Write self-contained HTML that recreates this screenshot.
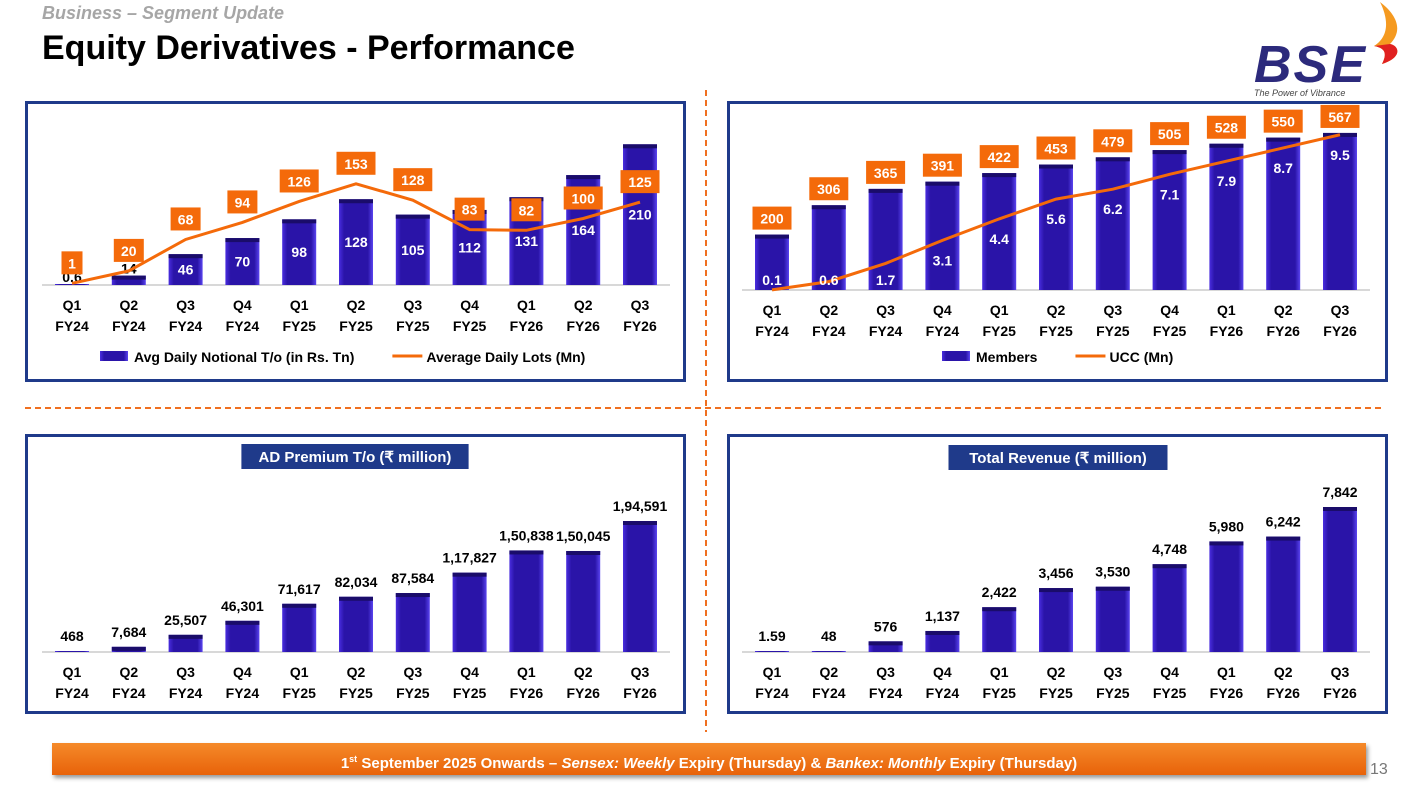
<!DOCTYPE html>
<html><head><meta charset="utf-8">
<style>
body{margin:0;width:1410px;height:790px;background:#fff;font-family:"Liberation Sans",sans-serif;overflow:hidden;position:relative}
.abs{position:absolute}
.panel{position:absolute;border:3px solid #1f3a8a;box-sizing:border-box;background:#fff}
</style></head>
<body>
<div class="abs" style="left:42px;top:3px;font-size:18px;font-weight:bold;font-style:italic;color:#a6a6a6">Business – Segment Update</div>
<div class="abs" style="left:42px;top:29px;font-size:34px;font-weight:bold;color:#000">Equity Derivatives - Performance</div>
<div class="abs" style="left:1254px;top:40px;width:150px;height:60px">
  <div style="font-size:52px;font-weight:bold;font-style:italic;color:#2c2a7c;line-height:50px;letter-spacing:2px">BSE</div>
  <div style="font-size:9px;font-style:italic;color:#444;margin-top:-2px">The Power of Vibrance</div>
  <svg class="abs" style="left:112px;top:-40px" width="40" height="68"><path d="M14 2 C30 14 38 30 24 44 C34 46 36 58 16 64 C22 52 18 48 8 46 C24 36 22 18 14 2Z" fill="#f59a20"/><path d="M24 44 C34 46 36 58 16 64 C22 52 18 48 8 46Z" fill="#e02020"/></svg>
</div>
<svg class="abs" style="left:0;top:0" width="1410" height="790">
  <line x1="25" y1="408" x2="1385" y2="408" stroke="#f07020" stroke-width="2" stroke-dasharray="6,4"/>
  <line x1="706" y1="90" x2="706" y2="732" stroke="#f07020" stroke-width="2" stroke-dasharray="6,4"/>
</svg>
<div class="panel" style="left:25px;top:101px;width:661px;height:281px"></div>
<div class="panel" style="left:727px;top:101px;width:661px;height:281px"></div>
<div class="panel" style="left:25px;top:434px;width:661px;height:280px"></div>
<div class="panel" style="left:727px;top:434px;width:661px;height:280px"></div>
<svg id="ch" class="abs" style="left:0;top:0" width="1410" height="790">
<defs>
<linearGradient id="bg" x1="0" y1="0" x2="1" y2="0"><stop offset="0" stop-color="#4a2ee0"/><stop offset="0.15" stop-color="#2a14a8"/><stop offset="0.85" stop-color="#2a14a8"/><stop offset="1" stop-color="#5a44f0"/></linearGradient>
</defs>
</svg>
<div class="abs" style="left:52px;top:743px;width:1314px;height:32px;background:linear-gradient(#f58a2a,#e8620a);box-shadow:2px 3px 4px #999;text-align:center;line-height:32px;font-size:15px;font-weight:bold;color:#fff">1<sup style="font-size:9px">st</sup> September 2025 Onwards – <i>Sensex: Weekly</i> Expiry (Thursday) &amp; <i>Bankex: Monthly</i> Expiry (Thursday)</div>
<div class="abs" style="left:1370px;top:761px;font-size:16px;color:#777">13</div>
<script>
const categoriesQ=["Q1","Q2","Q3","Q4","Q1","Q2","Q3","Q4","Q1","Q2","Q3"];
const categoriesFY=["FY24","FY24","FY24","FY24","FY25","FY25","FY25","FY25","FY26","FY26","FY26"];
const turnover=[0.6,14,46,70,98,128,105,112,131,164,210];
const dailyLots=[1,20,68,94,126,153,128,83,82,100,125];
const members=[200,306,365,391,422,453,479,505,528,550,567];
const ucc=[0.1,0.6,1.7,3.1,4.4,5.6,6.2,7.1,7.9,8.7,9.5];
const premium=[468,7684,25507,46301,71617,82034,87584,117827,150838,150045,194591];
const premiumLabels=["468","7,684","25,507","46,301","71,617","82,034","87,584","1,17,827","1,50,838","1,50,045","1,94,591"];
const revenue=[1.59,48,576,1137,2422,3456,3530,4748,5980,6242,7842];
const revenueLabels=["1.59","48","576","1,137","2,422","3,456","3,530","4,748","5,980","6,242","7,842"];

const svg=document.getElementById('ch');
const NS="http://www.w3.org/2000/svg";
function mk(tag,at,txt){const e=document.createElementNS(NS,tag);for(const k in at)e.setAttribute(k,at[k]);if(txt!==undefined)e.textContent=txt;svg.appendChild(e);return e;}
function xPos(x0,i){return x0+i*56.8;}
function axis(x0,base,name){
  const l=mk('line',{x1:x0-30,y1:base,x2:x0+10*56.8+30,y2:base,stroke:'#d8d8d8','stroke-width':2});
  
  
  categoriesQ.forEach((q,i)=>{
    const t=mk('text',{x:xPos(x0,i),y:base+25,'text-anchor':'middle','font-size':14,'font-weight':'bold',fill:'#000'},q);
    
    
    const t2=mk('text',{x:xPos(x0,i),y:base+46,'text-anchor':'middle','font-size':14,'font-weight':'bold',fill:'#000'},categoriesFY[i]);
    
    
  });
}
function bars(x0,base,vals,scale,name){
  return vals.map((v,i)=>{
    const h=Math.max(v*scale,1),x=xPos(x0,i)-17;
    const r=mk('rect',{x:x,y:base-h,width:34,height:h,fill:'url(#bg)'});
    
    
    if(h>4){mk('rect',{x:x,y:base-h,width:34,height:4,fill:'#1a0c6a'});}
    return base-h;
  });
}
function box(cx,cy,txt,name){
  const w=txt.length*9+12;
  const r=mk('rect',{x:cx-w/2,y:cy-12,width:w,height:23,fill:'#f46a0a'});
  
  
  mk('text',{x:cx,y:cy+5,'text-anchor':'middle','font-size':14,'font-weight':'bold',fill:'#fff'},txt);
}
function title(cx,cy,txt,name){
  const w=txt.length*8.2+14;
  const r=mk('rect',{x:cx-w/2,y:cy-12,width:w,height:25,fill:'#1f3a8a'});
  
  
  mk('text',{x:cx,y:cy+6,'text-anchor':'middle','font-size':15,'font-weight':'bold',fill:'#fff'},txt);
}
function legend(x,y,items,name){
  items.forEach(it=>{
    if(it.bar){const r=mk('rect',{x:x,y:y-6,width:28,height:10,fill:'url(#bg)'});}
    else{const l=mk('line',{x1:x,y1:y-1,x2:x+30,y2:y-1,stroke:'#f46a0a','stroke-width':3});}
    const t=mk('text',{x:x+34,y:y+5,'font-size':14,'font-weight':'bold',fill:'#000'},it.t);
    
    
    x+=34+t.getComputedTextLength()+38;
  });
}
// Chart 1
(function(){
  const x0=72,base=285;axis(x0,base,'turnover');
  const tops=bars(x0,base,turnover,0.67,'turnover');
  turnover.forEach((v,i)=>{
    const h=base-tops[i],small=h<20;
    mk('text',{x:xPos(x0,i),y:small?tops[i]-2:base-h/2+5,'text-anchor':'middle','font-size':14,'font-weight':'bold',fill:small?'#000':'#fff'},String(v));
  });
  const ly=v=>284-v*0.655;
  const pts=dailyLots.map((v,i)=>xPos(x0,i)+','+ly(v)).join(' ');
  const pl=mk('polyline',{points:pts,fill:'none',stroke:'#f46a0a','stroke-width':3});
  
  
  dailyLots.forEach((v,i)=>box(xPos(x0,i),ly(v)-20,String(v),'daily-lots-label'));
  legend(100,357,[{bar:1,t:'Avg Daily Notional T/o (in Rs. Tn)'},{t:'Average Daily Lots (Mn)'}],'turnover');
})();
// Chart 2
(function(){
  const x0=772,base=290;axis(x0,base,'members');
  const tops=bars(x0,base,members,0.277,'members');
  members.forEach((v,i)=>box(xPos(x0,i),tops[i]-16,String(v),'members-label'));
  const ly=v=>291.5-v*16.5;
  const pl=mk('polyline',{points:ucc.map((v,i)=>xPos(x0,i)+','+ly(v)).join(' '),fill:'none',stroke:'#f46a0a','stroke-width':3});
  
  
  ucc.forEach((v,i)=>mk('text',{x:xPos(x0,i),y:Math.min(ly(v)+25,base-5),'text-anchor':'middle','font-size':14,'font-weight':'bold',fill:'#fff'},String(v)));
  legend(942,357,[{bar:1,t:'Members'},{t:'UCC (Mn)'}],'members');
})();
// Chart 3
(function(){
  const x0=72,base=652;axis(x0,base,'premium');
  title(355,456,'AD Premium T/o (₹ million)','premium-title');
  const tops=bars(x0,base,premium,131/194591,'premium');
  premium.forEach((v,i)=>mk('text',{x:xPos(x0,i),y:tops[i]-10,'text-anchor':'middle','font-size':14,'font-weight':'bold',fill:'#000'},premiumLabels[i]));
})();
// Chart 4
(function(){
  const x0=772,base=652;axis(x0,base,'revenue');
  title(1058,457,'Total Revenue (₹ million)','revenue-title');
  const tops=bars(x0,base,revenue,145/7842,'revenue');
  revenue.forEach((v,i)=>mk('text',{x:xPos(x0,i),y:tops[i]-10,'text-anchor':'middle','font-size':14,'font-weight':'bold',fill:'#000'},revenueLabels[i]));
})();
</script>
</body></html>
